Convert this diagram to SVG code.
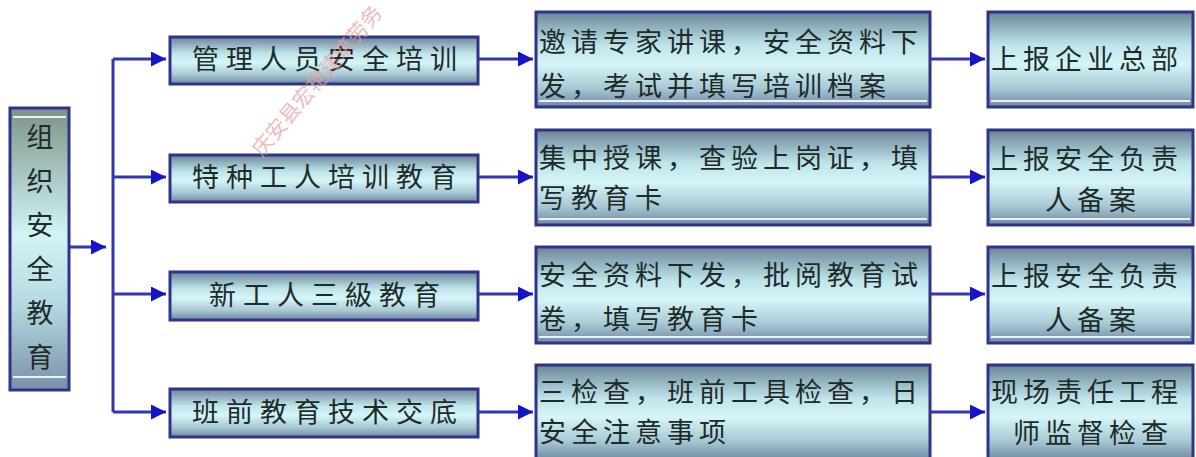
<svg xmlns="http://www.w3.org/2000/svg" width="1196" height="457" viewBox="0 0 1196 457">
<style>
.box{fill:url(#g);stroke:#2e3488;stroke-width:3}
.vbox{fill:url(#gv);stroke:#2e3488;stroke-width:3}
.hl{stroke:#ffffff;stroke-width:2;opacity:0.85}
.t{font-family:"Noto Sans CJK SC","Noto Sans CJK TC",sans-serif;font-size:27px;fill:#1e2b2b;letter-spacing:5px}
.t1{letter-spacing:7px}
.tc{text-anchor:middle}
.ln{fill:none;stroke:#3434b4;stroke-width:3}
.wm{font-family:"Noto Sans CJK SC",sans-serif;font-size:21px;fill:#e8a0a0;opacity:0.7}
</style>
<defs>
<linearGradient id="g" x1="0" y1="0" x2="0" y2="1">
<stop offset="0" stop-color="#6b8498"/>
<stop offset="0.35" stop-color="#bfe4ea"/>
<stop offset="0.55" stop-color="#d6f5f8"/>
<stop offset="0.8" stop-color="#a8c8d4"/>
<stop offset="1" stop-color="#7088a4"/>
</linearGradient>
<linearGradient id="gv" x1="0" y1="0" x2="0" y2="1">
<stop offset="0" stop-color="#7c9488"/>
<stop offset="0.45" stop-color="#d2f4f6"/>
<stop offset="0.7" stop-color="#b6d8e0"/>
<stop offset="1" stop-color="#7890a8"/>
</linearGradient>
<marker id="ah" viewBox="0 0 10 10" refX="10" refY="5" markerWidth="5" markerHeight="5" markerUnits="strokeWidth" orient="auto">
<path d="M0,0 L10,5 L0,10 z" fill="#1414c8"/>
</marker>
</defs>
<rect width="1196" height="457" fill="#ffffff"/>

<g id="connectors">
<path class="ln" d="M70,247 H106" marker-end="url(#ah)"/>
<path class="ln" d="M113,59 V412"/>
<path class="ln" d="M113,59 H166" marker-end="url(#ah)"/>
<path class="ln" d="M113,177 H166" marker-end="url(#ah)"/>
<path class="ln" d="M113,294 H166" marker-end="url(#ah)"/>
<path class="ln" d="M113,412 H166" marker-end="url(#ah)"/>
<path class="ln" d="M479,59 H533" marker-end="url(#ah)"/>
<path class="ln" d="M479,177 H533" marker-end="url(#ah)"/>
<path class="ln" d="M479,294 H533" marker-end="url(#ah)"/>
<path class="ln" d="M479,412 H533" marker-end="url(#ah)"/>
<path class="ln" d="M931,59 H985" marker-end="url(#ah)"/>
<path class="ln" d="M931,177 H985" marker-end="url(#ah)"/>
<path class="ln" d="M931,294 H985" marker-end="url(#ah)"/>
<path class="ln" d="M931,412 H985" marker-end="url(#ah)"/>
</g>

<g id="root">
<rect class="vbox" x="10" y="108" width="59" height="282"/>
<line class="hl" x1="13" y1="117" x2="66" y2="117"/>
<line class="hl" x1="13" y1="377" x2="66" y2="377"/>
<text class="t tc" x="40" style="letter-spacing:0">
<tspan x="40" y="147">组</tspan><tspan x="40" y="191">织</tspan><tspan x="40" y="235">安</tspan><tspan x="40" y="279">全</tspan><tspan x="40" y="323">教</tspan><tspan x="40" y="367">育</tspan>
</text>
</g>

<g id="a1">
<rect class="box" x="170" y="37" width="308" height="47"/>
<text class="t t1 tc" x="328" y="69">管理人员安全培训</text>
</g>
<g id="a2">
<rect class="box" x="170" y="155" width="308" height="47"/>
<text class="t t1 tc" x="328" y="187">特种工人培训教育</text>
</g>
<g id="a3">
<rect class="box" x="170" y="272" width="308" height="48"/>
<text class="t t1 tc" x="328" y="305">新工人三級教育</text>
</g>
<g id="a4">
<rect class="box" x="170" y="389" width="308" height="48"/>
<text class="t t1 tc" x="328" y="422">班前教育技术交底</text>
</g>

<g id="b1">
<rect class="box" x="536" y="12" width="394" height="95"/>
<line class="hl" x1="539" y1="101" x2="927" y2="101"/>
<text class="t" x="539" y="52">邀请专家讲课，安全资料下</text>
<text class="t" x="539" y="96">发，考试并填写培训档案</text>
</g>
<g id="b2">
<rect class="box" x="536" y="130" width="394" height="95"/>
<line class="hl" x1="539" y1="219" x2="927" y2="219"/>
<text class="t" x="539" y="168">集中授课，查验上岗证，填</text>
<text class="t" x="539" y="208">写教育卡</text>
</g>
<g id="b3">
<rect class="box" x="536" y="247" width="394" height="96"/>
<line class="hl" x1="539" y1="337" x2="927" y2="337"/>
<text class="t" x="539" y="285">安全资料下发，批阅教育试</text>
<text class="t" x="539" y="329">卷，填写教育卡</text>
</g>
<g id="b4">
<rect class="box" x="536" y="365" width="394" height="95"/>
<text class="t" x="539" y="402">三检查，班前工具检查，日</text>
<text class="t" x="539" y="442">安全注意事项</text>
</g>

<g id="c1">
<rect class="box" x="988" y="12" width="205" height="95"/>
<line class="hl" x1="991" y1="101" x2="1190" y2="101"/>
<text class="t" x="991" y="69">上报企业总部</text>
</g>
<g id="c2">
<rect class="box" x="988" y="130" width="205" height="95"/>
<line class="hl" x1="991" y1="219" x2="1190" y2="219"/>
<text class="t" x="991" y="169">上报安全负责</text>
<text class="t tc" x="1093" y="210">人备案</text>
</g>
<g id="c3">
<rect class="box" x="988" y="247" width="205" height="96"/>
<line class="hl" x1="991" y1="337" x2="1190" y2="337"/>
<text class="t" x="991" y="286">上报安全负责</text>
<text class="t tc" x="1093" y="330">人备案</text>
</g>
<g id="c4">
<rect class="box" x="988" y="365" width="205" height="95"/>
<text class="t" x="991" y="402">现场责任工程</text>
<text class="t tc" x="1093" y="443">师监督检查</text>
</g>

<text class="wm" transform="translate(262,158) rotate(-50)">庆安县宏艳建筑劳务</text>
</svg>
